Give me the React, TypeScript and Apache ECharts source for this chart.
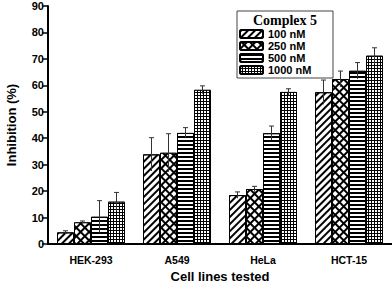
import React, { useEffect, useRef } from "react";
import * as echarts from "echarts";

const categories = ["HEK-293", "A549", "HeLa", "HCT-15"];
const seriesNames = ["100 nM", "250 nM", "500 nM", "1000 nM"];
const values100 = [4.4, 33.9, 18.5, 57.4];
const values250 = [8.2, 34.5, 20.8, 62.4];
const values500 = [10.3, 42.0, 41.9, 65.5];
const values1000 = [16.0, 58.3, 57.5, 71.2];
const err100 = [0.6, 6.3, 1.2, 4.6];
const err250 = [0.5, 7.2, 1.0, 3.0];
const err500 = [6.1, 2.0, 2.7, 3.1];
const err1000 = [3.5, 1.5, 1.2, 3.0];
const yTicks = [0, 10, 20, 30, 40, 50, 60, 70, 80, 90];

const allValues = [values100, values250, values500, values1000];
const allErrs = [err100, err250, err500, err1000];

const barColors = ["#fff", "#000", "#fff", "#000"];
const decals: any[] = [
  { symbol: "rect", symbolSize: 1, color: "#000", dashArrayX: [1, 0], dashArrayY: [1.2, 2.2], rotation: -Math.PI / 4 },
  { symbol: "rect", symbolSize: 1, color: "#fff", dashArrayX: [3.2, 1.3], dashArrayY: [3.2, 1.3], rotation: Math.PI / 4 },
  { symbol: "rect", symbolSize: 1, color: "#000", dashArrayX: [1, 0], dashArrayY: [1.2, 2], rotation: 0 },
  { symbol: "rect", symbolSize: 1, color: "#fff", dashArrayX: [2, 1], dashArrayY: [2, 1], rotation: 0 },
];

const BAR_W = 17;

export default function App() {
  const ref = useRef<HTMLDivElement>(null);
  useEffect(() => {
    const chart = echarts.init(ref.current!, null, { renderer: "svg" });
    const barSeries = seriesNames.map((name, i) => ({
      name,
      type: "bar",
      data: allValues[i],
      barWidth: BAR_W,
      barGap: "0%",
      itemStyle: { color: barColors[i], borderColor: "#000", borderWidth: 1, decal: decals[i] },
      emphasis: { disabled: true },
      z: 2,
    }));
    const errData: number[][] = [];
    allValues.forEach((vals, s) => {
      vals.forEach((v, c) => errData.push([c, v, allErrs[s][c], s]));
    });
    const errSeries = {
      type: "custom",
      name: "err",
      z: 5,
      data: errData,
      encode: { x: 0, y: 1 },
      renderItem: (params: any, api: any) => {
        const c = api.value(0);
        const v = api.value(1);
        const e = api.value(2);
        const s = api.value(3);
        const off = (s - 1.5) * BAR_W;
        const top = api.coord([c, v + e]);
        const bot = api.coord([c, Math.max(0, v - e)]);
        const x = top[0] + off;
        return {
          type: "group",
          children: [
            { type: "line", shape: { x1: x, y1: top[1], x2: x, y2: bot[1] }, style: { stroke: "#333", lineWidth: 1 } },
            { type: "line", shape: { x1: x - 2.5, y1: top[1], x2: x + 2.5, y2: top[1] }, style: { stroke: "#333", lineWidth: 1 } },
          ],
        };
      },
    };
    chart.setOption({
      animation: false,
      grid: { left: 48, right: 0, top: 6, bottom: 41, containLabel: false, outerBoundsMode: "none" },
      legend: {
        data: seriesNames,
        orient: "vertical",
        left: 239,
        top: 28,
        itemWidth: 23,
        itemHeight: 8,
        itemGap: 0,
        padding: 0,
        textStyle: { fontFamily: "Liberation Sans", fontWeight: "bold", fontSize: 11, color: "#000", lineHeight: 12 },
        selectedMode: false,
      },
      graphic: [
        { type: "rect", shape: { x: 237, y: 11, width: 96, height: 67 }, style: { fill: "none", stroke: "#444", lineWidth: 1 }, z: 10 },
        { type: "text", x: 285, y: 20, style: { text: "Complex 5", fontFamily: "Liberation Serif", fontWeight: "bold", fontSize: 14, fill: "#000", align: "center", verticalAlign: "middle" }, z: 10 },
      ],
      xAxis: {
        type: "category",
        data: categories,
        name: "Cell lines tested",
        nameLocation: "middle",
        nameGap: 26,
        nameTextStyle: { fontFamily: "Liberation Sans", fontWeight: "bold", fontSize: 13, color: "#000" },
        axisLine: { lineStyle: { color: "#000", width: 2 } },
        axisTick: { alignWithLabel: true, length: 6, lineStyle: { color: "#000", width: 1.5 } },
        axisLabel: { fontFamily: "Liberation Sans", fontWeight: "bold", fontSize: 10.5, color: "#000", margin: 10 },
      },
      yAxis: {
        type: "value",
        min: 0,
        max: 90,
        interval: 10,
        name: "Inhibition (%)",
        nameLocation: "middle",
        nameGap: 30,
        nameTextStyle: { fontFamily: "Liberation Sans", fontWeight: "bold", fontSize: 13, color: "#000" },
        axisLine: { show: true, lineStyle: { color: "#000", width: 2 } },
        axisTick: { show: true, length: 6, lineStyle: { color: "#000", width: 1.5 } },
        axisLabel: {
          fontFamily: "Liberation Sans",
          fontWeight: "bold",
          fontSize: 11,
          color: "#000",
          margin: 4,
          formatter: (v: number) => (yTicks.includes(v) ? String(v) : ""),
        },
        splitLine: { show: false },
      },
      series: [...barSeries, errSeries],
    });
    return () => chart.dispose();
  }, []);
  return <div ref={ref} style={{ width: 392, height: 285, position: "absolute", left: 0, top: 0 }} />;
}
